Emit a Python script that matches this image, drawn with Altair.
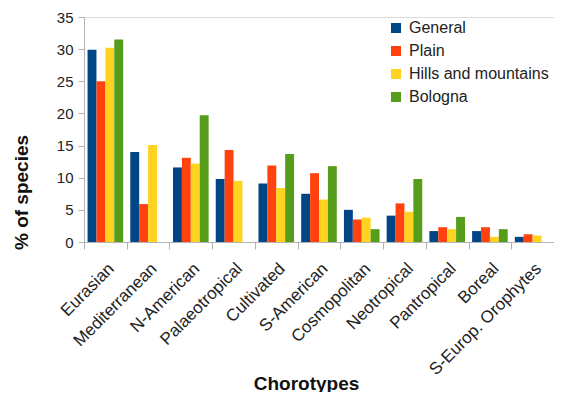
import altair as alt
import pandas as pd

categories = ["Eurasian", "Mediterranean", "N-American", "Palaeotropical", "Cultivated",
              "S-American", "Cosmopolitan", "Neotropical", "Pantropical", "Boreal",
              "S-Europ. Orophytes"]
series = ["General", "Plain", "Hills and mountains", "Bologna"]
general = [29.9, 14.0, 11.6, 9.8, 9.1, 7.5, 5.0, 4.1, 1.7, 1.7, 0.8]
plain = [25.0, 5.9, 13.1, 14.3, 11.9, 10.7, 3.5, 6.0, 2.3, 2.3, 1.2]
hills = [30.2, 15.1, 12.2, 9.5, 8.4, 6.6, 3.8, 4.7, 2.0, 0.8, 1.0]
bologna = [31.5, 0.0, 19.7, 0.0, 13.7, 11.8, 2.0, 9.8, 3.9, 2.0, 0.0]
colors = ["#004586", "#ff420e", "#ffd320", "#579d1c"]

rows = []
for s, vals in zip(series, [general, plain, hills, bologna]):
    for c, v in zip(categories, vals):
        rows.append({"Chorotype": c, "Series": s, "Value": v})
df = pd.DataFrame(rows)

chart = alt.Chart(df).mark_bar().encode(
    x=alt.X("Chorotype:N", sort=categories,
            scale=alt.Scale(paddingInner=0, paddingOuter=0),
            axis=alt.Axis(title="Chorotypes", labelAngle=-45, tickBand="extent",
                          labelFontSize=17, labelColor="#222", labelPadding=11,
                          titleFontSize=19, titleFontWeight="bold", titleColor="#111",
                          titleX=222, titleY=141, titleBaseline="middle",
                          domainColor="#b3b3b3", tickColor="#b3b3b3", tickSize=7)),
    xOffset=alt.XOffset("Series:N", sort=series,
                        scale=alt.Scale(paddingInner=0, paddingOuter=0.4)),
    y=alt.Y("Value:Q", scale=alt.Scale(domain=[0, 35]),
            axis=alt.Axis(title="% of species", values=[0, 5, 10, 15, 20, 25, 30, 35],
                          grid=False, labelFontSize=15, labelColor="#222", labelPadding=5,
                          titleFontSize=19, titleFontWeight="bold", titleColor="#111",
                          titleY=175, titleX=-63, titleAlign="center", titleBaseline="middle",
                          domainColor="#b3b3b3", tickColor="#b3b3b3", tickSize=6)),
    color=alt.Color("Series:N", sort=series,
                    scale=alt.Scale(domain=series, range=colors),
                    legend=alt.Legend(title=None, orient="none", legendX=304, legendY=3,
                                      symbolType="square", symbolSize=100,
                                      symbolStrokeWidth=0, labelFontSize=16,
                                      labelColor="#222", rowPadding=7, labelOffset=5)),
).properties(
    width=470, height=225,
    autosize=alt.AutoSizeParams(type="none"),
    padding={"left": 76, "top": 9, "right": 0, "bottom": 150},
).configure_view(stroke=None).configure(font="Liberation Sans")

chart.save("out.html", embed_options={"renderer": "svg", "actions": False})
